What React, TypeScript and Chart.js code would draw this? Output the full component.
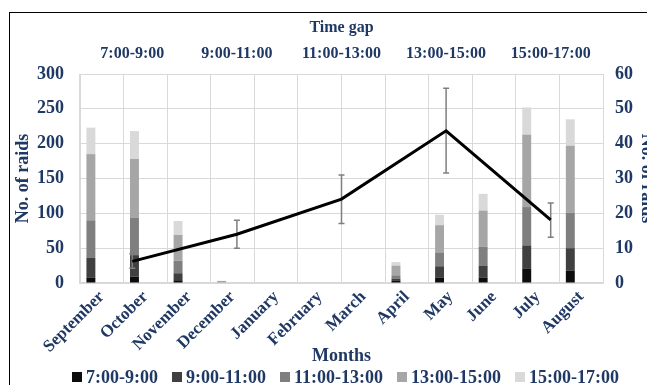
import React, { useEffect, useRef } from "react";
import { Chart, registerables } from "chart.js";

Chart.register(...registerables);

const months = [
  "September", "October", "November", "December", "January", "February",
  "March", "April", "May", "June", "July", "August",
];
const timeGaps = ["7:00-9:00", "9:00-11:00", "11:00-13:00", "13:00-15:00", "15:00-17:00"];

const raids7to9 = [8, 9, 4, 0, 0, 0, 0, 3, 8, 8, 21, 18];
const raids9to11 = [28, 31, 10, 0, 0, 0, 0, 3, 16, 17, 33, 32];
const raids11to13 = [54, 54, 18, 0, 0, 0, 0, 5, 20, 27, 55, 51];
const raids13to15 = [95, 84, 37, 3, 0, 0, 0, 14, 39, 52, 104, 96];
const raids15to17 = [38, 40, 20, 0, 0, 0, 1, 5, 15, 24, 39, 38];

const gapMean = [6.2, 14.0, 24.1, 43.7, 18.1];
const gapLow = [4.2, 10.0, 17.1, 31.6, 13.1];
const gapHigh = [8.4, 18.0, 31.0, 55.9, 23.0];

const seriesNames = ["7:00-9:00", "9:00-11:00", "11:00-13:00", "13:00-15:00", "15:00-17:00"];
const seriesColors = ["#0d0d0d", "#404040", "#7f7f7f", "#a6a6a6", "#d9d9d9"];

const NAVY = "#1f3864";
const FAMILY = "'Liberation Serif', 'Times New Roman', serif";
const GRID = "#d9d9d9";

const errorBarPlugin = {
  id: "errorBars",
  beforeDatasetDraw(chart: any, args: any) {
    const ds = chart.data.datasets[args.index];
    if (ds.type !== "line") return;
    const y1 = chart.scales.y1;
    const ctx = chart.ctx;
    ctx.save();
    ctx.strokeStyle = "#7f7f7f";
    ctx.lineWidth = 1.5;
    args.meta.data.forEach((pt: any, i: number) => {
      const x = pt.x;
      const yl = y1.getPixelForValue(gapLow[i]);
      const yh = y1.getPixelForValue(gapHigh[i]);
      ctx.beginPath();
      ctx.moveTo(x, yl);
      ctx.lineTo(x, yh);
      ctx.moveTo(x - 3, yl);
      ctx.lineTo(x + 3, yl);
      ctx.moveTo(x - 3, yh);
      ctx.lineTo(x + 3, yh);
      ctx.stroke();
    });
    ctx.restore();
  },
};

export default function App() {
  const ref = useRef<HTMLCanvasElement>(null);

  useEffect(() => {
    if (!ref.current) return;
    const barData = [raids7to9, raids9to11, raids11to13, raids13to15, raids15to17];
    const font = (size: number) => ({ family: FAMILY, size, weight: "bold" as const });
    const chart = new Chart(ref.current, {
      type: "bar",
      data: {
        labels: months,
        datasets: [
          ...barData.map((d, i) => ({
            type: "bar" as const,
            label: seriesNames[i],
            data: d,
            backgroundColor: seriesColors[i],
            stack: "raids",
            xAxisID: "x",
            yAxisID: "y",
            barPercentage: 0.41,
            categoryPercentage: 1,
            order: 2,
          })),
          {
            type: "line" as const,
            label: "Mean",
            data: gapMean,
            xAxisID: "x2",
            yAxisID: "y1",
            borderColor: "#000000",
            borderWidth: 3,
            pointRadius: 0,
            tension: 0,
            fill: false,
            order: 1,
          },
        ] as any,
      },
      plugins: [errorBarPlugin],
      options: {
        responsive: false,
        animation: false,
        layout: { padding: 0 },
        plugins: { legend: { display: false }, tooltip: { enabled: false } },
        scales: {
          x: {
            position: "bottom",
            stacked: true,
            offset: true,
            grid: { color: GRID, drawTicks: false, offset: true },
            border: { color: GRID, width: 2 },
            ticks: {
              color: NAVY,
              font: font(17),
              minRotation: 45,
              maxRotation: 45,
              padding: 4,
              autoSkip: false,
            },
            title: {
              display: true,
              text: "Months",
              color: NAVY,
              font: font(18),
              padding: { top: 0, bottom: 3 },
            },
            afterFit: (s: any) => {
              s.height = 87;
            },
          },
          x2: {
            type: "category",
            labels: timeGaps,
            position: "top",
            offset: true,
            grid: { display: false, drawTicks: false },
            border: { display: false },
            ticks: { color: NAVY, font: font(16), padding: 11, maxRotation: 0, autoSkip: false },
            title: {
              display: true,
              text: "Time gap",
              color: NAVY,
              font: font(16),
              padding: { top: 18, bottom: 0 },
            },
            afterFit: (s: any) => {
              s.height = 74;
            },
          },
          y: {
            position: "left",
            stacked: true,
            min: 0,
            max: 300,
            ticks: { stepSize: 50, padding: 16, color: NAVY, font: font(18) },
            grid: { color: GRID, drawTicks: false },
            border: { color: GRID },
            title: {
              display: true,
              text: "No. of raids",
              color: NAVY,
              font: font(18),
              padding: { top: 13, bottom: 0 },
            },
            afterFit: (s: any) => {
              s.width = 80;
            },
          },
          y1: {
            position: "right",
            min: 0,
            max: 60,
            ticks: { stepSize: 10, padding: 12, color: NAVY, font: font(18) },
            grid: { display: false, drawTicks: false },
            border: { display: false },
            title: {
              display: true,
              text: "No. of raids",
              color: NAVY,
              font: font(18),
              padding: { top: 23, bottom: 0 },
            },
            afterFit: (s: any) => {
              s.width = 77;
            },
          },
        } as any,
      },
    });
    return () => chart.destroy();
  }, []);

  return (
    <div
      style={{
        position: "absolute",
        left: 0,
        top: 0,
        width: 647,
        height: 385,
        overflow: "hidden",
        background: "#ffffff",
      }}
    >
      <div
        style={{
          position: "absolute",
          left: 9,
          top: 12,
          width: 720,
          height: 420,
          border: "1.5px solid #000",
        }}
      />
      <canvas
        ref={ref}
        width={680}
        height={370}
        style={{ position: "absolute", left: 0, top: 0, width: 680, height: 370 }}
      />
      <div
        style={{
          position: "absolute",
          left: 72,
          top: 368,
          display: "flex",
          alignItems: "center",
          gap: 14,
          fontFamily: FAMILY,
          fontWeight: "bold",
          fontSize: 18,
          lineHeight: "18px",
          color: NAVY,
          whiteSpace: "nowrap",
        }}
      >
        {seriesNames.map((n, i) => (
          <div key={n} style={{ display: "flex", alignItems: "center", gap: 4 }}>
            <span
              style={{
                display: "inline-block",
                width: 10,
                height: 10,
                background: seriesColors[i],
              }}
            />
            <span>{n}</span>
          </div>
        ))}
      </div>
    </div>
  );
}
